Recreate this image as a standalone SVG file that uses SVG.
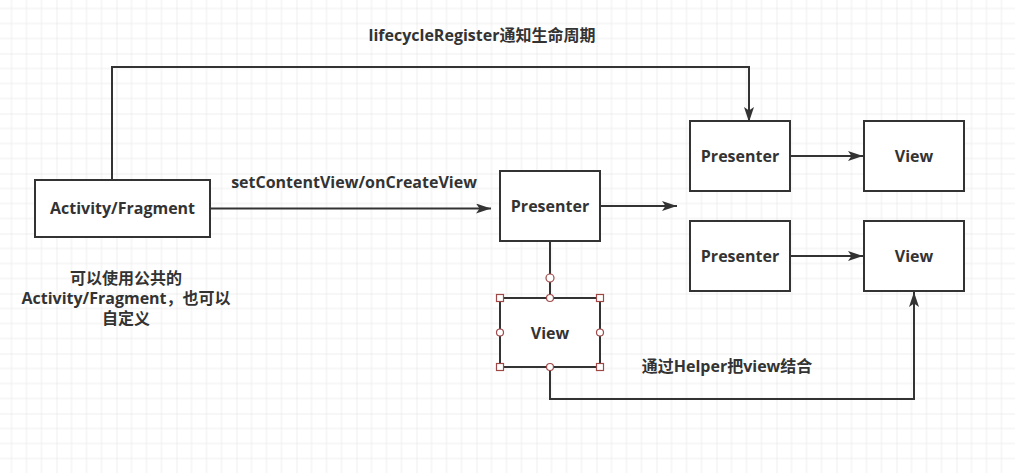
<svg xmlns="http://www.w3.org/2000/svg" width="1015" height="473" viewBox="0 0 1015 473">
  <style>
    .box { fill: #ffffff; stroke: #333333; stroke-width: 2; }
    .lbl { font-family: "Open Sans", "Noto Sans CJK SC", sans-serif; font-weight: bold; font-size: 16px; fill: #333333; text-anchor: middle; }
    .edge { fill: none; stroke: #333333; stroke-width: 2; }
    .hsq { fill: #ffffff; stroke: #a04848; stroke-width: 1.2; }
    .hci { fill: #ffffff; stroke: #a04848; stroke-width: 1.2; }
  </style>
  <defs>
    <pattern id="grid" patternUnits="userSpaceOnUse" x="-3.5" y="-6.5" width="60" height="60">
      <path d="M15 0V60M30 0V60M45 0V60M0 15H60M0 30H60M0 45H60" stroke="#eeeeee" stroke-width="1" fill="none"/>
      <path d="M0 0V60M0 0H60" stroke="#e0e0e0" stroke-width="1" fill="none"/>
    </pattern>
    <marker id="arrow" markerUnits="userSpaceOnUse" markerWidth="16" markerHeight="12" refX="15" refY="5" orient="auto">
      <path d="M0,0 L15,5 L0,10 L3.5,5 Z" fill="#333333"/>
    </marker>
  </defs>
  <rect width="1015" height="473" fill="#ffffff"/>
  <rect width="1015" height="473" fill="url(#grid)"/>

  <g id="connectors">
    <path class="edge" d="M112,180 V67 H749 V122" marker-end="url(#arrow)"/>
    <path class="edge" d="M210,208.5 H491" marker-end="url(#arrow)"/>
    <path class="edge" d="M600,206 H677" marker-end="url(#arrow)"/>
    <path class="edge" d="M790,156 H863" marker-end="url(#arrow)"/>
    <path class="edge" d="M790,256 H863" marker-end="url(#arrow)"/>
    <path class="edge" d="M550,241 V274"/>
    <path class="edge" d="M550,282 V298" stroke="#7a3a3a"/>
    <path class="edge" d="M550,367 V399 H914 V292" marker-end="url(#arrow)"/>
  </g>

  <g id="label-lifecycle">
    <text class="lbl" x="482" y="41">lifecycleRegister通知生命周期</text>
  </g>
  <g id="label-setcontent">
    <text class="lbl" x="354" y="188">setContentView/onCreateView</text>
  </g>
  <g id="label-helper">
    <text class="lbl" x="727" y="372">通过Helper把view结合</text>
  </g>
  <g id="label-note">
    <text class="lbl" x="126" y="284">可以使用公共的</text>
    <text class="lbl" x="126" y="304">Activity/Fragment，也可以</text>
    <text class="lbl" x="126" y="324">自定义</text>
  </g>

  <g id="node-activity">
    <rect class="box" x="35" y="180" width="175" height="57"/>
    <text class="lbl" x="122.5" y="214">Activity/Fragment</text>
  </g>
  <g id="node-presenter-main">
    <rect class="box" x="500" y="171" width="100" height="70"/>
    <text class="lbl" x="550" y="212">Presenter</text>
  </g>
  <g id="node-presenter-1">
    <rect class="box" x="690" y="121" width="100" height="70"/>
    <text class="lbl" x="740" y="162">Presenter</text>
  </g>
  <g id="node-view-1">
    <rect class="box" x="864" y="121" width="100" height="70"/>
    <text class="lbl" x="914" y="162">View</text>
  </g>
  <g id="node-presenter-2">
    <rect class="box" x="690" y="221" width="100" height="70"/>
    <text class="lbl" x="740" y="262">Presenter</text>
  </g>
  <g id="node-view-2">
    <rect class="box" x="864" y="221" width="100" height="70"/>
    <text class="lbl" x="914" y="262">View</text>
  </g>
  <g id="node-view-main">
    <rect class="box" x="500" y="298" width="100" height="69" stroke="#4a2a2a"/>
    <text class="lbl" x="550" y="339">View</text>
    <circle class="hci" cx="550" cy="278" r="4"/>
    <rect class="hsq" x="496.5" y="294.5" width="7" height="7"/>
    <rect class="hsq" x="596.5" y="294.5" width="7" height="7"/>
    <rect class="hsq" x="496.5" y="363.5" width="7" height="7"/>
    <rect class="hsq" x="596.5" y="363.5" width="7" height="7"/>
    <circle class="hci" cx="550" cy="298" r="3.5"/>
    <circle class="hci" cx="550" cy="367" r="3.5"/>
    <circle class="hci" cx="500" cy="332.5" r="3.5"/>
    <circle class="hci" cx="600" cy="332.5" r="3.5"/>
  </g>
</svg>
